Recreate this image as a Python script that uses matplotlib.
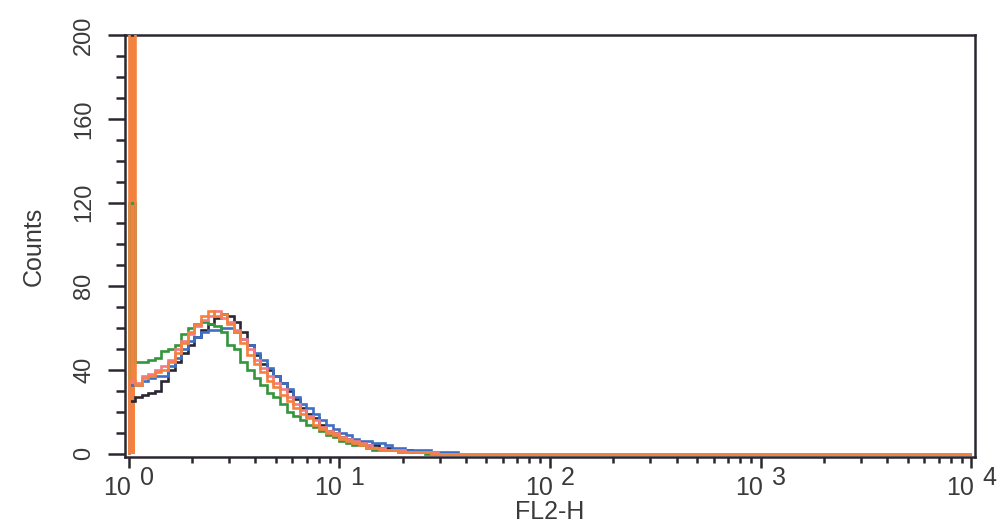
import numpy as np
import matplotlib
matplotlib.use("Agg")
import matplotlib.pyplot as plt
from matplotlib.ticker import FixedLocator, MultipleLocator, LogLocator, NullFormatter
from matplotlib.transforms import ScaledTranslation, blended_transform_factory

# Histogram data: counts per bin, bins 1/32 decade wide starting at 10^0
bins_per_decade = 32
n_decades = 4

black = [25, 27, 28, 29, 30, 35, 40, 44, 48, 52, 56, 59, 62, 65, 67, 66, 63, 58, 52, 47,
         43, 40, 37, 34, 30, 26, 22, 19, 17, 14, 11, 10, 8, 7, 6, 5, 4, 4, 3, 3,
         2, 2, 2, 1, 1, 1, 1, 0]
blue = [33, 33, 35, 36, 37, 37, 42, 46, 50, 54, 56, 58, 59, 59, 60, 60, 58, 55, 52, 48,
        45, 41, 37, 34, 31, 27, 24, 22, 19, 16, 14, 12, 10, 9, 7, 6, 6, 5, 5, 4,
        3, 3, 2, 2, 2, 2, 1, 1, 1, 1, 0]
green = [120, 44, 44, 45, 46, 49, 50, 52, 57, 60, 62, 63, 62, 61, 58, 52, 50, 44, 40, 36,
         33, 29, 27, 24, 20, 18, 16, 14, 13, 11, 9, 8, 6, 5, 4, 4, 3, 2, 2, 2,
         2, 1, 1, 1, 1, 0]
pink = [35, 34, 37, 38, 40, 42, 45, 50, 54, 57, 61, 64, 66, 68, 65, 63, 59, 55, 50, 45,
        41, 37, 34, 31, 27, 24, 21, 18, 16, 13, 11, 10, 8, 7, 6, 5, 4, 3, 3, 2,
        2, 2, 1, 1, 1, 1, 1, 0]
orange = [250, 33, 36, 37, 39, 40, 44, 48, 53, 58, 62, 66, 68, 66, 67, 62, 58, 53, 47, 43,
          39, 35, 32, 28, 25, 22, 19, 17, 14, 12, 10, 9, 7, 6, 5, 4, 3, 3, 2, 2,
          2, 1, 1, 1, 1, 1, 0]

series = [
    (black, "#2b2630"),
    (blue, "#3d6fc4"),
    (green, "#33963c"),
    (pink, "#f27b86"),
    (orange, "#f3823f"),
]

y_ticks = [0, 40, 80, 120, 160, 200]
x_ticks = [1, 10, 100, 1000, 10000]
x_tick_base = "10"
x_tick_exponents = ["0", "1", "2", "3", "4"]

n_bins = bins_per_decade * n_decades
edges = 10.0 ** (np.arange(n_bins + 1) / bins_per_decade)

plt.rcParams['font.family'] = ['Liberation Sans', 'DejaVu Sans']

TXT = "#3a3a3a"
AX = "#2b2630"

fig = plt.figure(figsize=(10.07, 5.23), dpi=100)
ax = fig.add_axes([0.1241, 0.1262, 0.8441, 0.8069])

# solid spike for orange first bin
ax.fill_between([edges[0], edges[1]], 0, orange[0], color="#f3823f", lw=0, zorder=1)

for vals, col in series:
    counts = np.array(vals + [0] * (n_bins - len(vals)), dtype=float)
    ax.stairs(counts, edges, color=col, lw=1.9, zorder=2.6)

ax.set_xscale("log")
ax.set_xlim(10 ** -0.017, 10 ** 4.018)
ax.set_ylim(-1.5, 200)

ax.xaxis.set_major_locator(FixedLocator(x_ticks))
ax.set_xticklabels([x_tick_base] * len(x_ticks))
ax.xaxis.set_minor_locator(LogLocator(base=10, subs=np.arange(2, 10)))
ax.xaxis.set_minor_formatter(NullFormatter())

ax.yaxis.set_major_locator(FixedLocator(y_ticks))
ax.set_yticklabels([str(v) for v in y_ticks], rotation=90, va="center")
ax.yaxis.set_minor_locator(MultipleLocator(10))

ax.tick_params(axis="y", which="major", direction="out", length=12.5, width=1.8,
               color=AX, labelsize=17, labelcolor=TXT, pad=9)
ax.tick_params(axis="y", which="minor", direction="out", length=6.5, width=1.8, color=AX)
ax.tick_params(axis="x", which="major", direction="out", length=8, width=1.8,
               color=AX, labelsize=18, labelcolor=TXT, pad=6)
ax.tick_params(axis="x", which="minor", direction="out", length=4.5, width=1.8, color=AX)

# shift base "10" left so base+exponent is centred on the tick
for lab in ax.get_xticklabels():
    lab.set_transform(lab.get_transform() + ScaledTranslation(-0.11, 0, fig.dpi_scale_trans))

# exponents at full size, raised
btrans = blended_transform_factory(ax.transData, ax.transAxes)
for xv, ex in zip(x_ticks, x_tick_exponents):
    ax.text(xv, 0, ex, transform=btrans + ScaledTranslation(0.11, -0.09, fig.dpi_scale_trans),
            ha="left", va="top", fontsize=18, color=TXT, clip_on=False)

for s in ax.spines.values():
    s.set_linewidth(1.8)
    s.set_color(AX)
    s.set_zorder(2.5)

ax.set_xlabel("FL2-H", fontsize=18, color=TXT, labelpad=0)
ax.set_ylabel("Counts", fontsize=18, color=TXT, labelpad=20)

fig.savefig("out.png", dpi=100)
